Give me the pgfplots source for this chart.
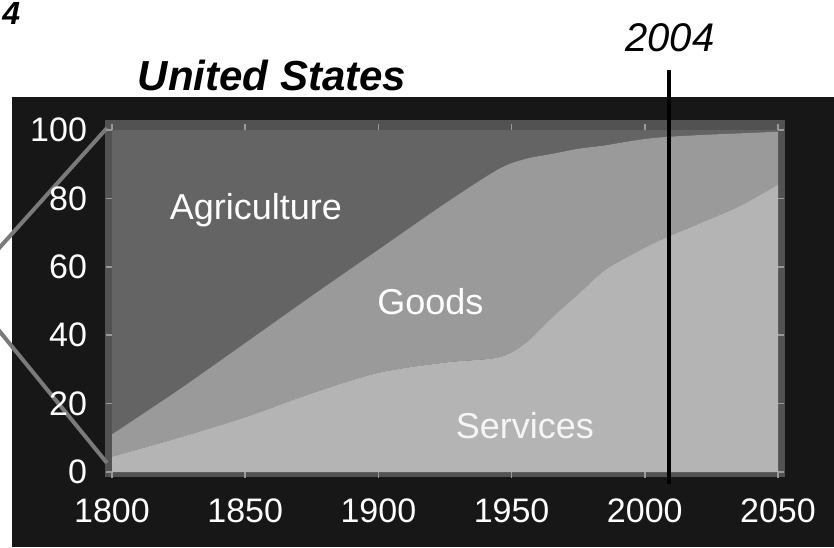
\documentclass[border=0pt]{standalone}
\usepackage{fontspec}
\setmainfont{Liberation Sans}
\usepackage{pgfplots}
\pgfplotsset{compat=1.18}
\usepackage{pgfplotstable}

\definecolor{bgblack}{HTML}{171717}
\definecolor{agri}{HTML}{646464}
\definecolor{goods}{HTML}{9A9A9A}
\definecolor{serv}{HTML}{B4B4B4}
\definecolor{framegray}{HTML}{525252}
\definecolor{bracket}{HTML}{7A7A7A}

% shares (percent) by sector
\pgfplotstableread{
year serv goods agri
1800 4.5  6.5  89
1825 10   14   76
1850 16   21.7 62.3
1875 23   28.5 48.5
1900 29   36   35
1925 32   46.5 21.5
1945 33.5 55   11.5
1955 37.5 54   8.5
1965 45   48   7
1975 52   42.5 5.5
1985 59   36.5 4.5
1995 63.5 33.3 3.2
2005 67.5 30.3 2.2
2020 72.5 26   1.5
2035 77.5 21.5 1
2050 84   15.5 0.5
}\datatable

\begin{document}
\begin{tikzpicture}
\useasboundingbox (-56pt,-37.5pt) rectangle (361pt,236pt);
\fill[bgblack] (-50pt,-37.5pt) rectangle (361pt,187.5pt);
\fill[framegray] (-3.5pt,-2.5pt) rectangle (336.5pt,176pt);
\draw[bracket, line width=2pt] (-2.5pt,172pt) -- (-60pt,108pt);
\draw[bracket, line width=2pt] (-60pt,75pt) -- (-2.5pt,4.5pt);
\node[font=\bfseries\itshape\fontsize{16}{19}\selectfont, anchor=north west, inner sep=1pt] at (-56pt,236pt) {4};
\begin{axis}[
  at={(0pt,0pt)}, anchor=south west,
  width=333pt, height=171pt, scale only axis,
  xmin=1800, xmax=2050, ymin=0, ymax=100,
  stack plots=y,
  axis line style={draw=none},
  xtick={1800,1850,...,2050}, ytick={0,20,...,100},
  tick align=outside, major tick length=3pt,
  tick style={color=gray!80, line width=0.8pt},
  ticklabel style={white, font=\fontsize{17}{20}\selectfont},
  /pgf/number format/1000 sep={},
  /pgf/number format/assume math mode=true,
  xticklabel style={yshift=-7pt},
  yticklabel style={xshift=-6pt},
  clip=false,
]
\addplot[fill=serv, draw=none, smooth, tension=0.5] table[x=year,y=serv]{\datatable} \closedcycle;
\addplot[fill=goods, draw=none, smooth, tension=0.5] table[x=year,y=goods]{\datatable} \closedcycle;
\addplot[fill=agri, draw=none, smooth, tension=0.5] table[x=year,y=agri]{\datatable} \closedcycle;

\coordinate (lagri) at (axis cs:1854,76.6);
\coordinate (lgoods) at (axis cs:1919.5,49.7);
\coordinate (lserv) at (axis cs:1955,13.7);
\coordinate (vbot) at (axis cs:2009,-3.5);
\coordinate (vtop) at (axis cs:2009,117.5);
\end{axis}
\node[white, font=\fontsize{18}{21}\selectfont] at (lagri) {Agriculture};
\node[white, font=\fontsize{18}{21}\selectfont] at (lgoods) {Goods};
\node[white!92!gray, font=\fontsize{18}{21}\selectfont] at (lserv) {Services};
\draw[black, line width=2.2pt] (vbot) -- (vtop);
\node[font=\fontsize{20}{24}\selectfont\itshape] at (279pt,217pt) {2004};
\node[font=\bfseries\itshape\fontsize{21}{25}\selectfont] at (80pt,198.5pt) {United States};
\end{tikzpicture}
\end{document}
